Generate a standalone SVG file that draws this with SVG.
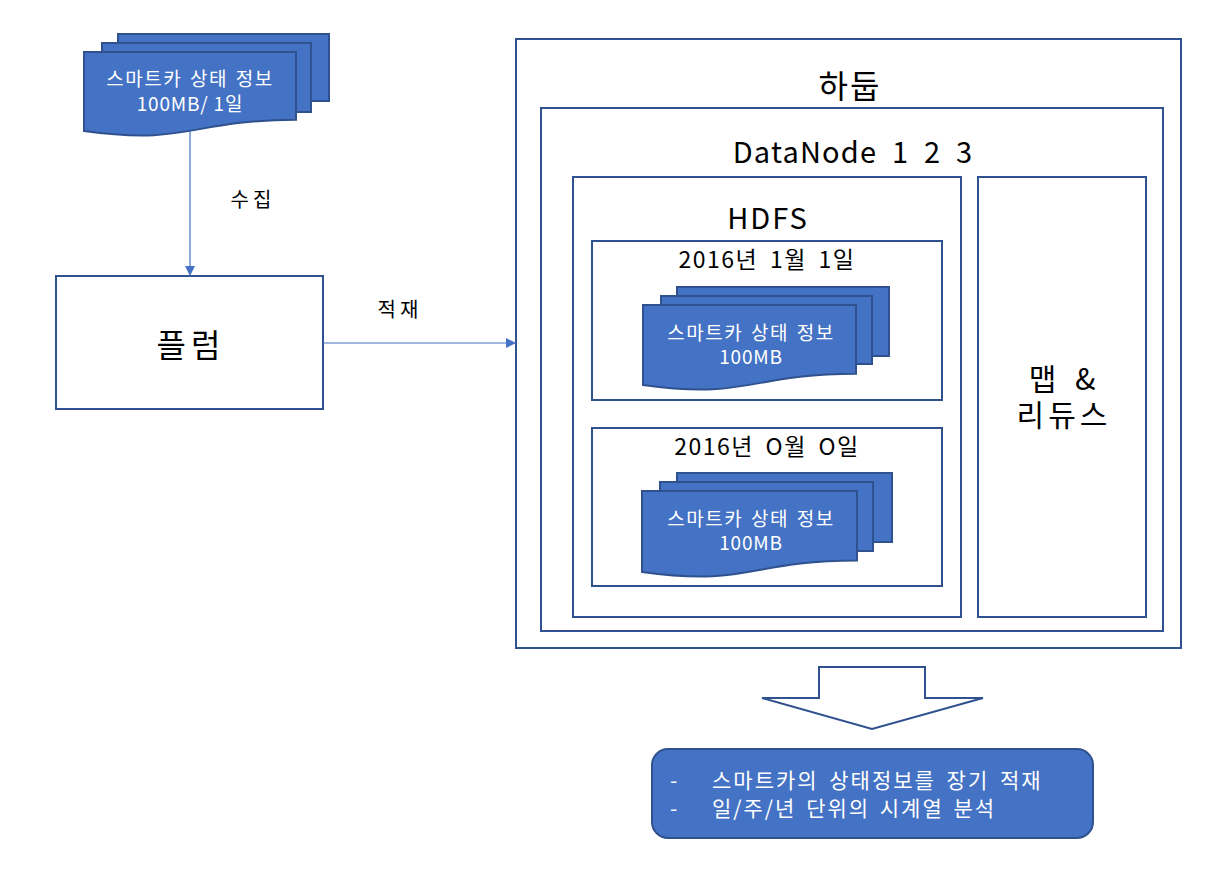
<svg xmlns="http://www.w3.org/2000/svg" width="1220" height="869" viewBox="0 0 1220 869">
<defs>
<style>
.box{fill:#fff;stroke:#2F528F;stroke-width:2}
.doc{fill:#4472C4;stroke:#2F528F;stroke-width:2;stroke-linejoin:miter}
.t{font-family:"Noto Sans CJK KR","Noto Sans",sans-serif;fill:#000;text-anchor:middle}
.w{font-family:"Noto Sans CJK KR","Noto Sans",sans-serif;fill:#fff;text-anchor:middle}
.wl{font-family:"Noto Sans CJK KR","Noto Sans",sans-serif;fill:#fff}
.dt{font-size:19px;letter-spacing:1.5px;word-spacing:2px}
.mb{font-size:19px;letter-spacing:0.8px}
.date{font-size:23px;letter-spacing:1.5px;word-spacing:5px}
.conn{stroke:#4472C4;stroke-width:1.2;fill:none}
</style>
<marker id="ah" viewBox="0 0 10 10" refX="10" refY="5" markerWidth="10" markerHeight="10" markerUnits="userSpaceOnUse" orient="auto">
<path d="M0,0 L10,5 L0,10 Z" fill="#4472C4"/>
</marker>
</defs>
<rect width="1220" height="869" fill="#fff"/>

<g id="source-doc">
<rect class="doc" x="118" y="34" width="211" height="67"/>
<rect class="doc" x="102" y="43" width="209" height="69"/>
<path class="doc" d="M84,52 H296 V119.8 C190,119.8 190,145.6 84,131 Z"/>
<text class="w dt" x="190" y="86">스마트카 상태 정보</text>
<text class="w mb" x="190" y="111">100MB/ 1일</text>
</g>

<g id="flume">
<rect class="box" x="56" y="276" width="267" height="133"/>
<text class="t" x="191" y="357" font-size="32" letter-spacing="5">플럼</text>
</g>

<g id="hadoop">
<rect class="box" x="516" y="39" width="665" height="609"/>
<text class="t" x="850" y="98" font-size="32" letter-spacing="2">하둡</text>
</g>

<g id="datanode">
<rect class="box" x="541" y="108" width="622" height="523"/>
<text class="t" x="853" y="163" font-size="29" letter-spacing="1.2" word-spacing="7">DataNode 1 2 3</text>
</g>

<g id="hdfs">
<rect class="box" x="573" y="177" width="388" height="440"/>
<text class="t" x="768" y="229" font-size="29" letter-spacing="2">HDFS</text>
</g>

<g id="day1">
<rect class="box" x="592" y="241" width="350" height="159"/>
<text class="t date" x="767" y="268">2016년 1월 1일</text>
<rect class="doc" x="677" y="287" width="212" height="69"/>
<rect class="doc" x="661" y="296" width="211" height="68"/>
<path class="doc" d="M643,305 H856 V373.7 C749.5,373.7 749.5,399.9 643,385 Z"/>
<text class="w dt" x="751" y="340">스마트카 상태 정보</text>
<text class="w mb" x="751" y="364">100MB</text>
</g>

<g id="dayN">
<rect class="box" x="592" y="428" width="350" height="158"/>
<text class="t date" x="767" y="455">2016년 O월 O일</text>
<rect class="doc" x="677" y="473" width="215" height="69"/>
<rect class="doc" x="660" y="482" width="213" height="69"/>
<path class="doc" d="M642,491 H857 V560.5 C749.5,560.5 749.5,586.8 642,572 Z"/>
<text class="w dt" x="751" y="526">스마트카 상태 정보</text>
<text class="w mb" x="751" y="550">100MB</text>
</g>

<g id="mapreduce">
<rect class="box" x="978" y="177" width="168" height="440"/>
<text class="t" x="1064" y="390" font-size="30" letter-spacing="4" word-spacing="4">맵 &amp;</text>
<text class="t" x="1064" y="426" font-size="30" letter-spacing="4">리듀스</text>
</g>

<g id="block-arrow">
<path d="M819,667 H925 V698 H983 L872,729 L762,698 H819 Z" fill="#fff" stroke="#2F528F" stroke-width="2" stroke-linejoin="miter"/>
</g>

<g id="summary">
<rect x="652" y="749" width="441" height="89" rx="16" ry="16" fill="#4472C4" stroke="#2F528F" stroke-width="2"/>
<text class="wl" x="670" y="788" font-size="21">-</text>
<text class="wl" x="712" y="788" font-size="21" letter-spacing="2" word-spacing="4">스마트카의 상태정보를 장기 적재</text>
<text class="wl" x="670" y="816" font-size="21">-</text>
<text class="wl" x="712" y="816" font-size="21" letter-spacing="2" word-spacing="3">일/주/년 단위의 시계열 분석</text>
</g>

<g id="connectors">
<line class="conn" x1="190" y1="131" x2="190" y2="276" marker-end="url(#ah)"/>
<text class="t" x="253" y="207" font-size="20" letter-spacing="4">수집</text>
<line class="conn" x1="323" y1="343" x2="516" y2="343" marker-end="url(#ah)"/>
<text class="t" x="400" y="317" font-size="20" letter-spacing="4">적재</text>
</g>
</svg>
